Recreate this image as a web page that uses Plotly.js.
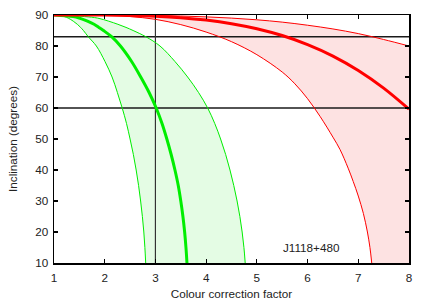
<!DOCTYPE html>
<html>
<head>
<meta charset="utf-8">
<script src="https://cdn.plot.ly/plotly-3.0.1.min.js"></script>
<style>html,body{margin:0;padding:0;background:#fff;}#chart{width:431px;height:302px;}</style>
</head>
<body>
<div id="chart"></div>
<script>
// Axis ranges and ticks
const xRange = [1, 8];
const yRange = [10, 90];
const xTicks = [1, 2, 3, 4, 5, 6, 7, 8];
const yTicks = [10, 20, 30, 40, 50, 60, 70, 80, 90];

// Green curves: colour correction factor read at each inclination
const greenIncl      = [90,  89.5, 89,   88,   87,   86,    85,   83,    80,    75,    70,    65,    60,    55,    50,    45,    40,    35,    30,    25,    20,    15,    10];
const greenThinLeft  = [1.0, 1.20, 1.28, 1.38, 1.46, 1.525, 1.58, 1.675, 1.835, 2.005, 2.145, 2.25,  2.345, 2.43,  2.50,  2.565, 2.62,  2.668, 2.708, 2.743, 2.771, 2.792, 2.808];
const greenThick     = [1.0, 1.38, 1.50, 1.66, 1.79, 1.885, 1.975,2.135, 2.31,  2.53,  2.71,  2.875, 3.015, 3.13,  3.225, 3.31,  3.385, 3.45,  3.50,  3.542, 3.576, 3.602, 3.622];
const greenThinRight = [1.0, 1.60, 1.86, 2.08, 2.26, 2.42,  2.56, 2.81,  3.09,  3.385, 3.635, 3.85,  4.03,  4.17,  4.285, 4.385, 4.47,  4.545, 4.61,  4.665, 4.71,  4.745, 4.77];

// Red curves: inclination read at each colour correction factor
const redUpperX = [1,  2,     2.5,   3,     3.5,   4,    4.5,  5,     5.5,  6,    6.5,  7,    7.5,  8];
const redUpperY = [90, 89.98, 89.94, 89.85, 89.67, 89.4, 89.0, 88.45, 87.7, 86.7, 85.5, 84.0, 82.1, 80.0];
const redThickX = [1,  2,     2.5,   3,     3.5,   4,     4.5,   5,     5.5,   6,     6.5,   7,    7.5,  8];
const redThickY = [90, 89.96, 89.85, 89.6,  89.13, 88.36, 87.21, 85.58, 83.37, 80.45, 76.75, 72.1, 66.4, 59.6];
const redLowerX = [1,  2,     2.5,  3,    3.5,  4,    4.5,  5,    5.5,  5.75, 6,    6.25, 6.5,  6.64, 6.8,  6.9,  7.0,  7.1,  7.18, 7.23, 7.265];
const redLowerY = [90, 89.85, 89.5, 88.6, 86.9, 84.5, 81.4, 77.2, 71.6, 67.8, 63.0, 57.2, 50.6, 46.6, 40.6, 36.3, 31.6, 26.0, 20.0, 15.0, 10];

// Reference lines
const refIncl = [83, 60];
const refFactor = [3];

// Label
const labelText = 'J1118+480';
const labelPos = [6.08, 15];

const GREEN = '#00ee00', RED = '#ff0000';
const GREEN_FILL = 'rgb(228,252,228)', RED_FILL = 'rgb(253,226,226)';

const traces = [];
// green band fill (between the two thin green curves)
traces.push({x: greenThinLeft, y: greenIncl, mode: 'lines', line: {width: 0, shape: 'spline'}, hoverinfo: 'skip', showlegend: false});
traces.push({x: greenThinRight, y: greenIncl, mode: 'lines', line: {width: 0, shape: 'spline'}, fill: 'tonextx', fillcolor: GREEN_FILL, hoverinfo: 'skip', showlegend: false});
// red band fill: upper curve, plot corner, lower curve reversed
const redFillX = redUpperX.concat([xRange[1]], redLowerX.slice().reverse());
const redFillY = redUpperY.concat([yRange[0]], redLowerY.slice().reverse());
traces.push({x: redFillX, y: redFillY, mode: 'lines', line: {width: 0}, fill: 'toself', fillcolor: RED_FILL, hoverinfo: 'skip', showlegend: false});

// reference lines
refIncl.forEach(v => traces.push({x: xRange, y: [v, v], mode: 'lines', line: {color: '#1a1a1a', width: 1.5}, showlegend: false}));
refFactor.forEach(v => traces.push({x: [v, v], y: yRange, mode: 'lines', line: {color: '#333', width: 1.2}, showlegend: false}));

// curves
traces.push({x: greenThinLeft, y: greenIncl, mode: 'lines', line: {color: GREEN, width: 1, shape: 'spline'}, showlegend: false});
traces.push({x: greenThinRight, y: greenIncl, mode: 'lines', line: {color: GREEN, width: 1, shape: 'spline'}, showlegend: false});
traces.push({x: greenThick, y: greenIncl, mode: 'lines', line: {color: GREEN, width: 3, shape: 'spline'}, showlegend: false});
traces.push({x: redUpperX, y: redUpperY, mode: 'lines', line: {color: RED, width: 1, shape: 'spline'}, showlegend: false});
traces.push({x: redLowerX, y: redLowerY, mode: 'lines', line: {color: RED, width: 1, shape: 'spline'}, showlegend: false});
traces.push({x: redThickX, y: redThickY, mode: 'lines', line: {color: RED, width: 3, shape: 'spline'}, showlegend: false});

const FONT = {family: 'Liberation Sans, Arial, sans-serif', size: 11.7, color: '#222'};
const axisCommon = {
  showline: true, linecolor: '#000', linewidth: 1.5, mirror: 'ticks',
  ticks: 'inside', ticklen: 4, tickwidth: 1.2, tickcolor: '#000',
  showgrid: false, zeroline: false, automargin: false, tickfont: FONT
};

const layout = {
  width: 431, height: 302,
  margin: {l: 54, r: 22, t: 15, b: 39},
  paper_bgcolor: '#fff', plot_bgcolor: '#fff',
  font: FONT,
  showlegend: false,
  xaxis: Object.assign({}, axisCommon, {range: xRange, tickvals: xTicks, ticktext: xTicks.map(String),
    ticklabelstandoff: 3,
    title: {text: 'Colour correction factor', font: FONT, standoff: 7}}),
  yaxis: Object.assign({}, axisCommon, {range: yRange, tickvals: yTicks, ticktext: yTicks.map(String),
    ticklabelstandoff: 2,
    title: {text: 'Inclination (degrees)', font: FONT, standoff: 15}}),
  annotations: [{x: labelPos[0], y: labelPos[1], xref: 'x', yref: 'y', text: labelText, showarrow: false, font: FONT}]
};

Plotly.newPlot('chart', traces, layout, {displayModeBar: false, staticPlot: true});
</script>
</body>
</html>
